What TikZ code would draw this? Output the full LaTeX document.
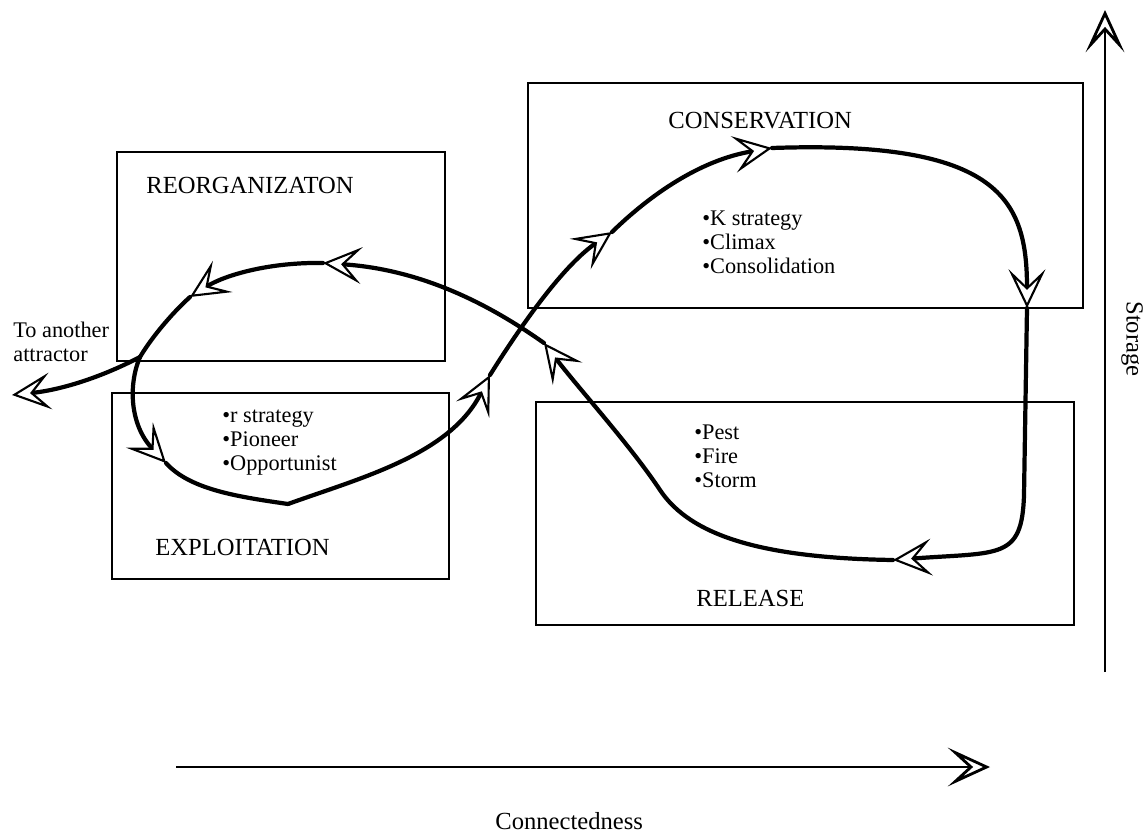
\documentclass[tikz,border=0pt]{standalone}
\usepackage{fontspec}
\setmainfont{Liberation Serif}
\usetikzlibrary{arrows.meta}

\begin{document}
\begin{tikzpicture}[
  x=0.02cm,
  y=-0.02cm,
  phasebox/.style={
    rectangle,
    draw=black,
    line width=0.7pt,
    inner sep=0pt
  },
  heading/.style={
    anchor=base west,
    inner sep=0pt,
    font=\fontsize{14}{16}\selectfont
  },
  traits/.style={
    anchor=base west,
    inner sep=0pt,
    align=left,
    font=\fontsize{12.7}{13.4}\selectfont
  },
  flow/.style={
    draw=black,
    line width=2.4pt,
    line cap=round,
    line join=round
  },
  flowtip/.style={
    flow,
    -{Stealth[length=22pt, width=21pt, inset=10pt, fill=white, line width=1.2pt]}
  },
  axis/.style={
    draw=black,
    line width=0.8pt,
    -{Stealth[length=24pt, width=22pt, inset=12pt, fill=white, line width=1.6pt]}
  }
]
\useasboundingbox (0,0) rectangle (1146,835);

% Phase boxes
\node[phasebox, minimum width=6.56cm, minimum height=4.18cm] (reorgbox) at (281,256.5) {};
\node[phasebox, minimum width=6.74cm, minimum height=3.72cm] (exploitbox) at (280.5,486) {};
\node[phasebox, minimum width=11.1cm, minimum height=4.5cm] (consbox) at (805.5,195.5) {};
\node[phasebox, minimum width=10.76cm, minimum height=4.46cm] (releasebox) at (805,513.5) {};

% Phase names & traits (base = last line)
\node[heading] (reorg) at (146,193) {REORGANIZATON};
\node[heading] (cons) at (668,128) {CONSERVATION};
\node[heading] (exploit) at (155,555) {EXPLOITATION};
\node[heading] (release) at (696,606) {RELEASE};
\node[traits] (exploittraits) at (222,470) {•r strategy\\•Pioneer\\•Opportunist};
\node[traits] (constraits) at (702,273) {•K strategy\\•Climax\\•Consolidation};
\node[traits] (releasetraits) at (694,487) {•Pest\\•Fire\\•Storm};
\node[traits] (escape) at (13,361) {To another\\attractor};

% Axes
\coordinate (conn-lo) at (176,767);
\coordinate (conn-hi) at (990,767);
\coordinate (stor-lo) at (1105,672);
\coordinate (stor-hi) at (1105,10);
\draw[axis] (conn-lo) -- (conn-hi);
\draw[axis] (stor-lo) -- (stor-hi);
\node[heading] (connlabel) at (495,829) {Connectedness};
\node[heading, anchor=center, rotate=-90] (storlabel) at (1132,339) {Storage};

% Cycle waypoints
\coordinate (exploit-in) at (166,463);
\coordinate (exploit-low) at (288,504);
\coordinate (cons-in-lo) at (490,375);
\coordinate (cons-in) at (612,232);
\coordinate (cons-top) at (772,148);
\coordinate (release-in) at (1027,308);
\coordinate (release-low) at (893,560);
\coordinate (reorg-in) at (544,343);
\coordinate (reorg-top) at (323,263);
\coordinate (reorg-out) at (190,297);
\coordinate (fork) at (140,357);
\coordinate (escape-tip) at (12,395);

% Adaptive cycle
\draw[flow] (exploit-in) .. controls (190,490) and (240,497) .. (exploit-low);
\draw[flowtip] (exploit-low) .. controls (360,478) and (450,455) .. (cons-in-lo);
\draw[flowtip] (cons-in-lo) .. controls (515,335) and (560,268) .. (cons-in);
\draw[flowtip] (cons-in) .. controls (650,195) and (700,160) .. (cons-top);
\draw[flowtip] (cons-top) .. controls (1000,140) and (1027,200) .. (release-in);
\draw[flowtip] (release-in) -- (1024,495) .. controls (1022,560) and (1000,552) .. (release-low);
\draw[flowtip] (release-low) .. controls (760,558) and (690,535) .. (660,490)
  .. controls (630,445) and (580,390) .. (reorg-in);
\draw[flowtip] (reorg-in) .. controls (500,312) and (430,270) .. (reorg-top);
\draw[flowtip] (reorg-top) .. controls (270,262) and (225,275) .. (reorg-out);
\draw[flow] (reorg-out) .. controls (170,315) and (150,340) .. (fork);
\draw[flowtip] (fork) .. controls (100,378) and (60,390) .. (escape-tip);
\draw[flowtip] (fork) .. controls (128,385) and (130,425) .. (exploit-in);

\end{tikzpicture}
\end{document}
